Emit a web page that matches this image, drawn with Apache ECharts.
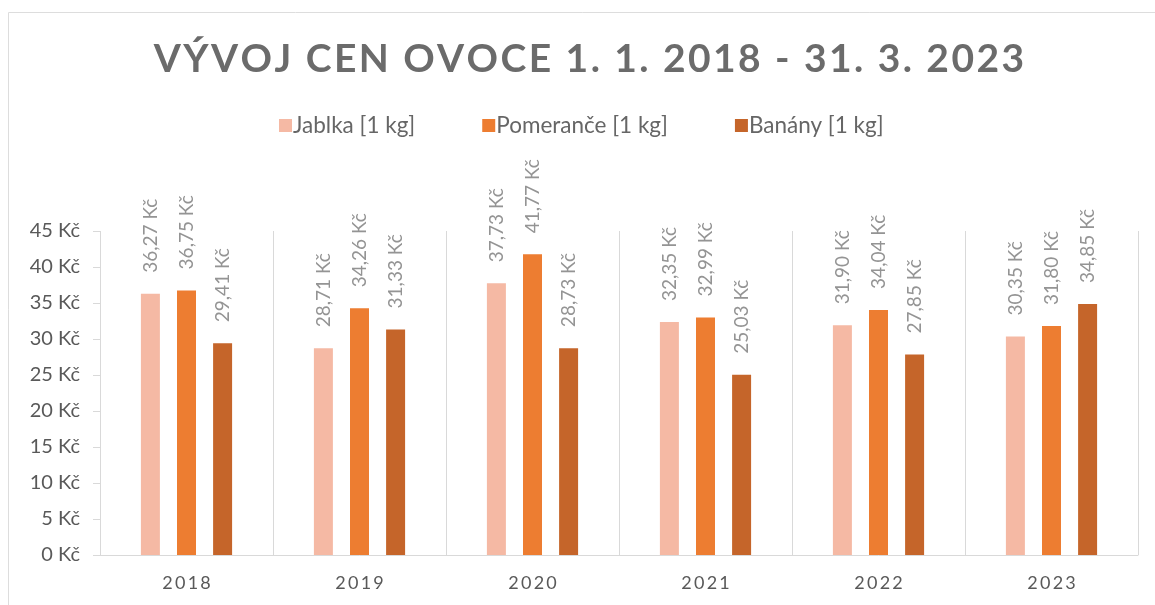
<!DOCTYPE html>
<html>
<head>
<meta charset="utf-8">
<script src="https://cdn.jsdelivr.net/npm/echarts@6/dist/echarts.min.js"></script>
<style>
  html, body { margin: 0; padding: 0; background: #fff; }
  #main { width: 1155px; height: 605px; }
</style>
</head>
<body>
<div id="main"></div>
<script>
var years = ['2018', '2019', '2020', '2021', '2022', '2023'];
var seriesNames = ['Jablka [1 kg]', 'Pomeranče [1 kg]', 'Banány [1 kg]'];
var jablka = [36.27, 28.71, 37.73, 32.35, 31.90, 30.35];
var pomerance = [36.75, 34.26, 41.77, 32.99, 34.04, 31.80];
var banany = [29.41, 31.33, 28.73, 25.03, 27.85, 34.85];
var colors = ['#F5B9A4', '#ED7D31', '#C5652A'];
var titleText = 'VÝVOJ CEN OVOCE 1. 1. 2018 - 31. 3. 2023';

// rozpálit text (canvas neumí letter-spacing)
function spaced(s, sep) {
    return s.split('').join(sep);
}

function kc(v) {
    return v.toFixed(2).replace('.', ',') + ' Kč';
}

var myChart = echarts.init(document.getElementById('main'));

function makeSeries(name, data, color) {
    return {
        name: name,
        type: 'bar',
        data: data,
        barWidth: 19,
        barGap: '90%',
        itemStyle: { color: color },
        label: {
            show: true,
            position: 'top',
            rotate: 90,
            align: 'left',
            verticalAlign: 'middle',
            distance: 21,
            fontFamily: 'Lato',
            fontSize: 19,
            color: '#949494',
            formatter: function (p) { return kc(p.value); }
        }
    };
}

var option = {
    animation: false,
    color: colors,
    textStyle: { fontFamily: 'Lato' },
    title: {
        text: spaced(titleText, '\u200A'),
        left: 584,
        textAlign: 'center',
        top: 35,
        textStyle: {
            fontFamily: 'Lato',
            fontWeight: 'bold',
            fontSize: 39,
            color: '#6B6B6B'
        }
    },
    legend: {
        data: seriesNames,
        left: 274,
        top: 109,
        itemWidth: 13,
        itemHeight: 13,
        itemGap: 67,
        icon: 'rect',
        textStyle: {
            fontFamily: 'Lato',
            fontSize: 22.5,
            color: '#666666',
            padding: [0, 0, 0, -4]
        }
    },
    graphic: [{
        type: 'rect',
        shape: { x: 8.5, y: 12.5, width: 1170, height: 620 },
        style: { fill: 'none', stroke: '#DDDDDD', lineWidth: 1 },
        silent: true
    }],
    grid: {
        left: 100,
        right: 17,
        top: 231,
        bottom: 50
    },
    xAxis: {
        type: 'category',
        data: years,
        axisLine: { lineStyle: { color: '#D9D9D9', width: 1 } },
        axisTick: { show: false },
        splitLine: { show: true, lineStyle: { color: '#D9D9D9', width: 1 } },
        axisLabel: {
            margin: 19,
            fontFamily: 'Lato',
            fontSize: 18,
            color: '#595959',
            formatter: function (v) { return spaced(v, '\u2009'); }
        }
    },
    yAxis: {
        type: 'value',
        min: 0,
        max: 45,
        interval: 5,
        axisLine: { show: false },
        axisTick: { show: true, length: 7, lineStyle: { color: '#D9D9D9' } },
        splitLine: { show: false },
        axisLabel: {
            margin: 20,
            fontFamily: 'Lato',
            fontSize: 20,
            color: '#595959',
            formatter: '{value} Kč'
        }
    },
    series: [
        makeSeries(seriesNames[0], jablka, colors[0]),
        makeSeries(seriesNames[1], pomerance, colors[1]),
        makeSeries(seriesNames[2], banany, colors[2])
    ]
};

myChart.setOption(option);
</script>
</body>
</html>
